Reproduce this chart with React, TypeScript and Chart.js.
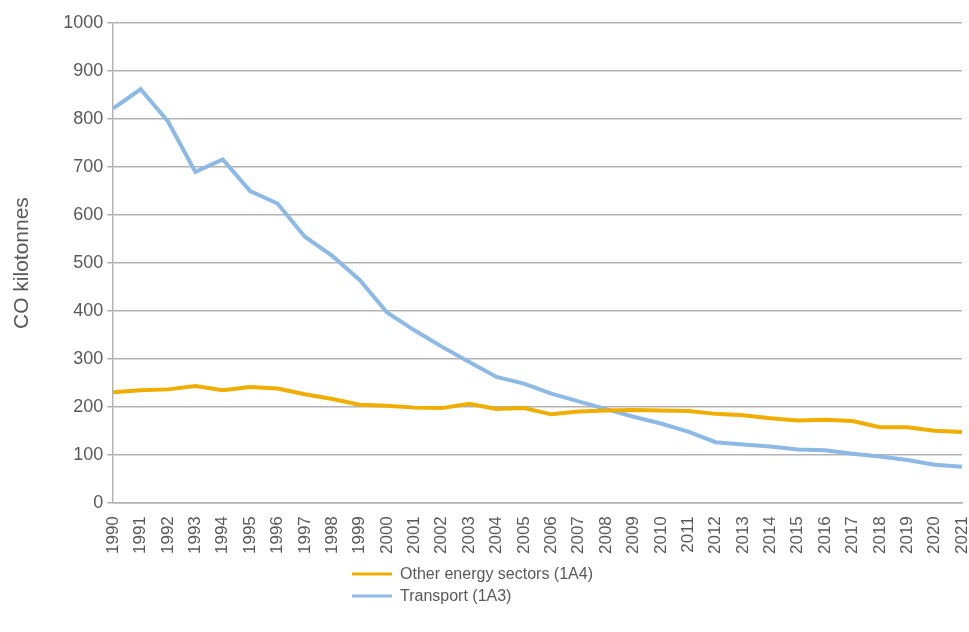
import React, { useEffect, useRef } from "react";
import { Chart, registerables } from "chart.js";

Chart.register(...registerables);

const years: string[] = [
  "1990", "1991", "1992", "1993", "1994", "1995", "1996", "1997", "1998", "1999",
  "2000", "2001", "2002", "2003", "2004", "2005", "2006", "2007", "2008", "2009",
  "2010", "2011", "2012", "2013", "2014", "2015", "2016", "2017", "2018", "2019",
  "2020", "2021",
];

const otherEnergy: number[] = [
  231, 235, 237, 244, 235, 242, 239, 227, 217, 205,
  203, 199, 198, 207, 196, 198, 185, 191, 193, 194,
  193, 192, 186, 183, 177, 172, 174, 171, 158, 158,
  151, 148,
];

const transport: number[] = [
  822, 862, 795, 690, 716, 650, 624, 555, 515, 465,
  397, 360, 326, 294, 263, 249, 228, 212, 196, 180,
  166, 149, 127, 122, 118, 112, 110, 103, 97, 90,
  80, 76,
];

const seriesNames: string[] = ["Other energy sectors (1A4)", "Transport (1A3)"];
const seriesColors: string[] = ["#f0ae00", "#8cb9e6"];

const FONT = "'Liberation Sans', Arial, sans-serif";
const TEXT = "#595959";
const GRID = "#b3b3b3";

const legendPlugin = {
  id: "stackedLegend",
  afterDraw(chart: any) {
    const ctx = chart.ctx;
    ctx.save();
    ctx.font = `16px ${FONT}`;
    ctx.textBaseline = "middle";
    ctx.textAlign = "left";
    chart.data.datasets.forEach((ds: any, i: number) => {
      const y = 574 + i * 22;
      ctx.strokeStyle = ds.borderColor;
      ctx.lineWidth = 3;
      ctx.beginPath();
      ctx.moveTo(352, y);
      ctx.lineTo(392, y);
      ctx.stroke();
      ctx.fillStyle = TEXT;
      ctx.fillText(ds.label, 400, y + 1);
    });
    ctx.restore();
  },
};

export default function App() {
  const ref = useRef<HTMLCanvasElement | null>(null);

  useEffect(() => {
    document.body.style.margin = "0";
    const canvas = ref.current;
    if (!canvas) return;
    const chart = new Chart(canvas, {
      type: "line",
      data: {
        labels: years,
        datasets: [
          {
            label: seriesNames[0],
            data: otherEnergy,
            borderColor: seriesColors[0],
            backgroundColor: seriesColors[0],
            borderWidth: 4,
            pointRadius: 0,
            tension: 0,
          },
          {
            label: seriesNames[1],
            data: transport,
            borderColor: seriesColors[1],
            backgroundColor: seriesColors[1],
            borderWidth: 4,
            pointRadius: 0,
            tension: 0,
          },
        ],
      },
      options: {
        animation: false,
        responsive: false,
        maintainAspectRatio: false,
        layout: { padding: { left: 10, right: 7, top: 23, bottom: 73 } },
        plugins: {
          legend: { display: false },
          tooltip: { enabled: false },
        },
        scales: {
          x: {
            type: "category",
            offset: false,
            grid: { display: false },
            border: { display: true, color: GRID, width: 1.5 },
            ticks: {
              color: TEXT,
              font: { family: FONT, size: 17 },
              minRotation: 90,
              maxRotation: 90,
              autoSkip: false,
              padding: 5,
            },
            afterFit(scale: any) {
              scale.paddingLeft = 0;
              scale.paddingRight = 0;
            },
          },
          y: {
            min: 0,
            max: 1000,
            ticks: {
              stepSize: 100,
              color: TEXT,
              font: { family: FONT, size: 18 },
              padding: 4,
              callback: (v: any) => String(v),
            },
            grid: {
              color: GRID,
              lineWidth: 1.5,
              drawTicks: true,
              tickLength: 6,
            },
            border: { display: true, color: GRID, width: 1.5 },
            title: {
              display: true,
              text: "CO kilotonnes",
              color: TEXT,
              font: { family: FONT, size: 21 },
              padding: { top: 0, bottom: 24 },
            },
            afterFit(scale: any) {
              scale.paddingTop = 0;
            },
          },
        },
      },
      plugins: [legendPlugin],
    });
    return () => chart.destroy();
  }, []);

  return (
    <div style={{ position: "relative", width: 969, height: 632 }}>
      <canvas ref={ref} width={969} height={632} style={{ display: "block" }} />
    </div>
  );
}
